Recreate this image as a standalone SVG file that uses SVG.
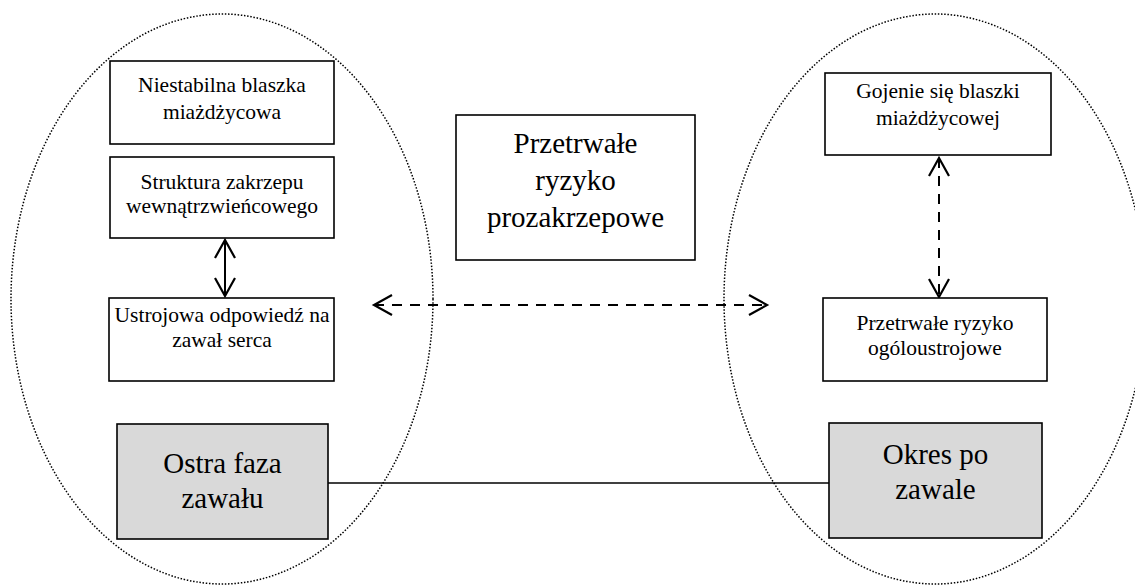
<svg xmlns="http://www.w3.org/2000/svg" width="1135" height="585" viewBox="0 0 1135 585">
  <style>
    .zone { fill: none; stroke: #000; stroke-width: 1.5; stroke-dasharray: 1.5 1.7; }
    .box { fill: #fff; stroke: #000; stroke-width: 1.6; }
    .phase { fill: #d9d9d9; stroke: #000; stroke-width: 1.6; }
    .t { font-family: "Liberation Serif", "Times New Roman", serif; fill: #000; text-anchor: middle; }
    .s { font-size: 21.5px; }
    .l { font-size: 29px; }
    .link { fill: none; stroke: #000; stroke-width: 2; }
    .dash { stroke-dasharray: 10 8; }
  </style>
  <defs>
    <marker id="vhead" markerUnits="userSpaceOnUse" markerWidth="26" markerHeight="26" refX="19" refY="11" orient="auto-start-reverse" overflow="visible">
      <path d="M1,1 L19,11 L1,21" fill="none" stroke="#000" stroke-width="2.2" stroke-dasharray="none"/>
    </marker>
  </defs>
  <rect width="1135" height="585" fill="#fff"/>

  <!-- phase regions -->
  <g id="zones">
    <ellipse class="zone" cx="222" cy="299" rx="211" ry="285"/>
    <ellipse class="zone" cx="935" cy="299" rx="211" ry="285"/>
  </g>

  <!-- connectors -->
  <g id="connectors">
    <line x1="328" y1="483" x2="829" y2="483" stroke="#000" stroke-width="1.5"/>
    <line class="link" x1="225" y1="240" x2="225" y2="296" marker-start="url(#vhead)" marker-end="url(#vhead)"/>
    <line class="link dash" x1="374" y1="305" x2="767" y2="305" marker-start="url(#vhead)" marker-end="url(#vhead)"/>
    <line class="link dash" x1="939" y1="158" x2="939" y2="297" marker-start="url(#vhead)" marker-end="url(#vhead)"/>
  </g>

  <g id="plaque-unstable">
    <rect class="box" x="110" y="61" width="224" height="83"/>
    <text class="t s" x="222" y="92">Niestabilna blaszka</text>
    <text class="t s" x="222" y="119">miażdżycowa</text>
  </g>

  <g id="thrombus">
    <rect class="box" x="110" y="157" width="224" height="81"/>
    <text class="t s" x="222" y="189">Struktura zakrzepu</text>
    <text class="t s" x="222" y="213">wewnątrzwieńcowego</text>
  </g>

  <g id="systemic-response">
    <rect class="box" x="109" y="298" width="225" height="83"/>
    <text class="t s" x="222" y="322">Ustrojowa odpowiedź na</text>
    <text class="t s" x="222" y="347">zawał serca</text>
  </g>

  <g id="acute-phase">
    <rect class="phase" x="117" y="424" width="211" height="115"/>
    <text class="t l" x="222.5" y="473">Ostra faza</text>
    <text class="t l" x="222.5" y="508">zawału</text>
  </g>

  <g id="prothrombotic-risk">
    <rect class="box" x="456" y="115" width="239" height="145"/>
    <text class="t l" x="575.5" y="153">Przetrwałe</text>
    <text class="t l" x="575.5" y="190">ryzyko</text>
    <text class="t l" x="575.5" y="227">prozakrzepowe</text>
  </g>

  <g id="plaque-healing">
    <rect class="box" x="825" y="73" width="226" height="82"/>
    <text class="t s" x="938" y="98">Gojenie się blaszki</text>
    <text class="t s" x="938" y="125">miażdżycowej</text>
  </g>

  <g id="systemic-risk">
    <rect class="box" x="823" y="298" width="224" height="83"/>
    <text class="t s" x="935" y="330">Przetrwałe ryzyko</text>
    <text class="t s" x="935" y="355">ogóloustrojowe</text>
  </g>

  <g id="post-infarction">
    <rect class="phase" x="829" y="423" width="213" height="115"/>
    <text class="t l" x="935.5" y="464">Okres po</text>
    <text class="t l" x="935.5" y="499">zawale</text>
  </g>
</svg>
